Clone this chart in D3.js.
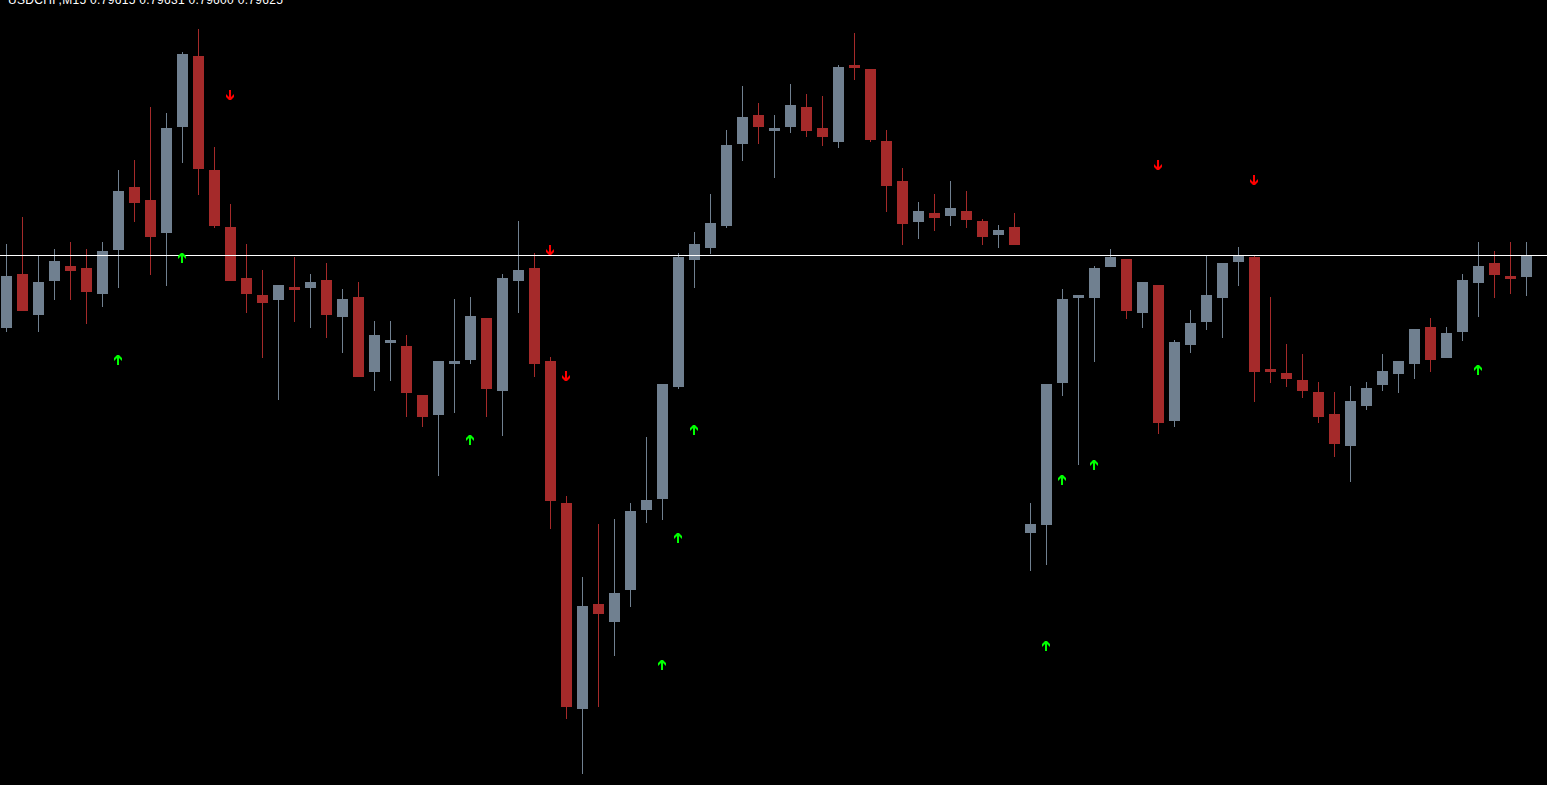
<!DOCTYPE html>
<html>
<head>
<meta charset="utf-8">
<script src="https://cdn.jsdelivr.net/npm/d3@7"></script>
<style>
  html, body { margin: 0; padding: 0; background: #000; overflow: hidden; }
  svg { display: block; }
</style>
</head>
<body>
<svg id="chart" width="1547" height="785"></svg>
<script>
// ---- data (USDCHF, M15) ----
const symbolTitle = "USDCHF,M15  0.79615 0.79631 0.79600 0.79625";

const open = [
  0.79589, 0.79616, 0.795955, 0.796125, 0.7962, 0.79619, 0.79606, 0.79628, 0.796595, 0.79653,
  0.796365, 0.796895, 0.79725, 0.79668, 0.796395, 0.79614, 0.796055, 0.79603, 0.796095, 0.79609,
  0.79613, 0.795945, 0.796045, 0.79567, 0.795815, 0.7958, 0.795555, 0.795455, 0.79571, 0.79573,
  0.79594, 0.795575, 0.796125, 0.79619, 0.795725, 0.795015, 0.793985, 0.79451, 0.79442, 0.79458,
  0.79498, 0.795035, 0.795595, 0.79623, 0.79629, 0.7964, 0.79681, 0.796955, 0.796875, 0.796895,
  0.796995, 0.79689, 0.79682, 0.797205, 0.797185, 0.796825, 0.796625, 0.79642, 0.796465, 0.79645,
  0.796475, 0.796425, 0.796355, 0.796395, 0.794865, 0.794905, 0.795615, 0.79604, 0.79604, 0.796195,
  0.796235, 0.795965, 0.796105, 0.795425, 0.795805, 0.79592, 0.79604, 0.79622, 0.796245, 0.795685,
  0.795665, 0.79563, 0.79557, 0.79546, 0.7953, 0.7955, 0.795605, 0.79566, 0.79571, 0.795895,
  0.79574, 0.79587, 0.796115, 0.796215, 0.79615, 0.796145
];
const high = [
  0.79631, 0.796445, 0.796255, 0.796285, 0.79632, 0.796285, 0.79632, 0.79668, 0.79673, 0.796995,
  0.796965, 0.79727, 0.797385, 0.796795, 0.79651, 0.79631, 0.79618, 0.796105, 0.796245, 0.79616,
  0.796215, 0.796085, 0.79612, 0.795925, 0.795925, 0.795855, 0.795555, 0.795725, 0.796035, 0.796045,
  0.79594, 0.79616, 0.796425, 0.796265, 0.795745, 0.79505, 0.794645, 0.79491, 0.794935, 0.795015,
  0.795345, 0.79561, 0.796265, 0.79637, 0.79656, 0.79688, 0.7971, 0.797015, 0.796955, 0.79711,
  0.79706, 0.79705, 0.797205, 0.797365, 0.797185, 0.79688, 0.79669, 0.79652, 0.79656, 0.796625,
  0.796575, 0.796435, 0.796405, 0.796465, 0.795015, 0.79561, 0.796085, 0.796055, 0.7962, 0.796285,
  0.796235, 0.79612, 0.796105, 0.79583, 0.79598, 0.796255, 0.796215, 0.796295, 0.796255, 0.796045,
  0.79581, 0.79576, 0.79562, 0.79557, 0.7956, 0.79562, 0.79576, 0.795725, 0.795885, 0.79594,
  0.795895, 0.79616, 0.79632, 0.796275, 0.79632, 0.79632
];
const low = [
  0.79587, 0.795975, 0.79587, 0.79603, 0.79603, 0.79591, 0.795995, 0.79609, 0.79642, 0.796155,
  0.7961, 0.796715, 0.796555, 0.79639, 0.796125, 0.795965, 0.79574, 0.79553, 0.79592, 0.79589,
  0.79584, 0.795765, 0.795645, 0.795575, 0.795625, 0.795445, 0.795395, 0.79515, 0.795465, 0.79571,
  0.795445, 0.79535, 0.795965, 0.795645, 0.794885, 0.793935, 0.79366, 0.793995, 0.79425, 0.794495,
  0.794915, 0.79493, 0.795585, 0.79609, 0.79626, 0.79639, 0.796725, 0.79681, 0.79664, 0.796865,
  0.796845, 0.7968, 0.79679, 0.79713, 0.79682, 0.79647, 0.796305, 0.796335, 0.796375, 0.7964,
  0.79639, 0.796305, 0.79629, 0.796305, 0.794675, 0.794705, 0.79555, 0.795205, 0.79572, 0.796195,
  0.795935, 0.79589, 0.79536, 0.795395, 0.795765, 0.79588, 0.79584, 0.7961, 0.79552, 0.795615,
  0.795595, 0.79554, 0.795415, 0.795245, 0.79512, 0.79548, 0.795575, 0.795565, 0.795635, 0.79567,
  0.79574, 0.795825, 0.795945, 0.79604, 0.79606, 0.79605
];
const close = [
  0.79615, 0.795975, 0.79612, 0.796225, 0.796175, 0.79607, 0.796275, 0.796575, 0.796515, 0.796345,
  0.79689, 0.79726, 0.796685, 0.7964, 0.796125, 0.79606, 0.796015, 0.796105, 0.79608, 0.79612,
  0.795955, 0.796035, 0.795645, 0.795855, 0.79583, 0.795565, 0.795445, 0.795725, 0.795725, 0.79595,
  0.795585, 0.79614, 0.79618, 0.79571, 0.795025, 0.793995, 0.7945, 0.79446, 0.794565, 0.794975,
  0.79503, 0.79561, 0.796245, 0.79631, 0.796415, 0.796805, 0.796945, 0.796895, 0.79689, 0.797005,
  0.796875, 0.796845, 0.797195, 0.79719, 0.79683, 0.7966, 0.79641, 0.796475, 0.79644, 0.79649,
  0.79643, 0.796345, 0.79638, 0.796305, 0.79491, 0.79561, 0.796035, 0.796055, 0.79619, 0.796245,
  0.795975, 0.79612, 0.795415, 0.79582, 0.795915, 0.796055, 0.796215, 0.796255, 0.79567, 0.79567,
  0.795635, 0.795575, 0.795445, 0.79531, 0.795525, 0.79559, 0.795675, 0.795725, 0.795885, 0.79573,
  0.795865, 0.79613, 0.7962, 0.796155, 0.796135, 0.796255
];

// signal arrows (bar index, price of arrow tip)
const buyBars   = [7, 11, 29, 41, 42, 43, 65, 66, 68, 92];
const buyPrice  = [0.795755, 0.796265, 0.795355, 0.79423, 0.794865, 0.795405, 0.794325, 0.795155, 0.79523, 0.795705];
const sellBars  = [14, 34, 35, 72, 78];
const sellPrice = [0.79703, 0.796255, 0.795625, 0.79668, 0.796605];

// ---- chart ----
const W = 1547, H = 785;
const colors = { bg: "#000000", bull: "#708090", bear: "#A52A2A", buy: "#00FF00", sell: "#FF0000", bid: "#FFFFFF", text: "#FFFFFF" };

const svg = d3.select("#chart");
svg.append("rect").attr("width", W).attr("height", H).attr("fill", colors.bg);

const bars = open.map((o, i) => ({ i, o, h: high[i], l: low[i], c: close[i] }));

const x = d3.scaleLinear().domain([0, bars.length - 1]).range([6.5, 6.5 + 16 * (bars.length - 1)]);
const y = d3.scaleLinear().domain([0.793605, 0.79753]).range([H, 0]);
const bodyW = 11;

const g = svg.append("g").attr("shape-rendering", "crispEdges");

// wicks
g.selectAll("line.wick").data(bars).join("line")
  .attr("class", "wick")
  .attr("x1", d => x(d.i)).attr("x2", d => x(d.i))
  .attr("y1", d => Math.round(y(d.h))).attr("y2", d => Math.round(y(d.l)))
  .attr("stroke", d => d.c >= d.o ? colors.bull : colors.bear)
  .attr("stroke-width", 1);

// bodies
g.selectAll("rect.body").data(bars).join("rect")
  .attr("class", "body")
  .attr("x", d => x(d.i) - bodyW / 2)
  .attr("width", bodyW)
  .attr("y", d => Math.round(y(Math.max(d.o, d.c))))
  .attr("height", d => Math.max(1, Math.round(y(Math.min(d.o, d.c))) - Math.round(y(Math.max(d.o, d.c)))))
  .attr("fill", d => d.c >= d.o ? colors.bull : colors.bear);

// bid line at last close
const lastClose = close[close.length - 1];
svg.append("line")
  .attr("x1", 0).attr("x2", W)
  .attr("y1", Math.round(y(lastClose)) + 0.5).attr("y2", Math.round(y(lastClose)) + 0.5)
  .attr("stroke", colors.bid).attr("stroke-width", 1)
  .attr("shape-rendering", "crispEdges");

// arrows (bold Wingdings-like)
function upArrow(cx, t) {
  return `M${cx - 1},${t} L${cx + 1},${t} L${cx + 4},${t + 3} L${cx + 4},${t + 6} L${cx + 1},${t + 3} L${cx + 1},${t + 10} L${cx - 1},${t + 10} L${cx - 1},${t + 3} L${cx - 4},${t + 6} L${cx - 4},${t + 3} Z`;
}
function downArrow(cx, b) {
  return `M${cx - 1},${b} L${cx + 1},${b} L${cx + 4},${b - 3} L${cx + 4},${b - 6} L${cx + 1},${b - 3} L${cx + 1},${b - 10} L${cx - 1},${b - 10} L${cx - 1},${b - 3} L${cx - 4},${b - 6} L${cx - 4},${b - 3} Z`;
}
svg.append("g").selectAll("path.buy").data(buyBars.map((b, k) => ({ b, p: buyPrice[k] }))).join("path")
  .attr("class", "buy")
  .attr("d", d => upArrow(x(d.b) - 0.5, Math.round(y(d.p))))
  .attr("fill", colors.buy);
svg.append("g").selectAll("path.sell").data(sellBars.map((b, k) => ({ b, p: sellPrice[k] }))).join("path")
  .attr("class", "sell")
  .attr("d", d => downArrow(x(d.b) - 0.5, Math.round(y(d.p))))
  .attr("fill", colors.sell);

// title (clipped at top as in the terminal)
svg.append("text")
  .attr("x", 8).attr("y", 4)
  .attr("fill", colors.text)
  .attr("font-family", "Liberation Sans, Arial, sans-serif")
  .attr("font-size", 12)
  .attr("textLength", 275)
  .attr("lengthAdjust", "spacing")
  .text(symbolTitle);
</script>
</body>
</html>
